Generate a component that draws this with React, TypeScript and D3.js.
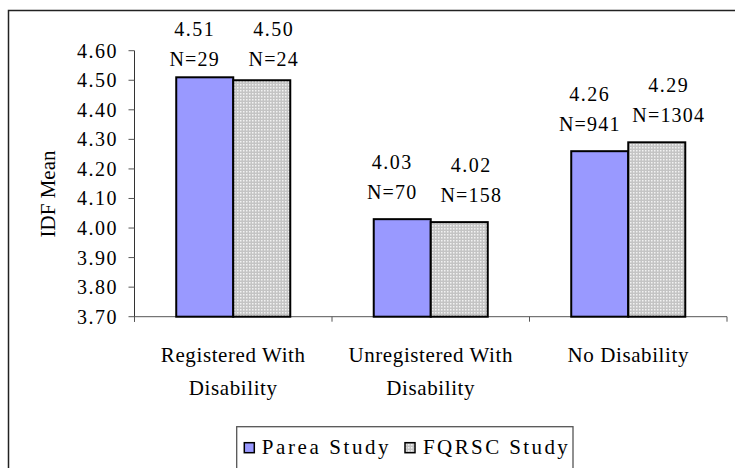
import React from "react";
import * as d3 from "d3";

const categories = ["Registered With Disability", "Unregistered With Disability", "No Disability"];
const categoryLines = [["Registered With", "Disability"], ["Unregistered With", "Disability"], ["No Disability"]];
const seriesNames = ["Parea Study", "FQRSC Study"];
const pareaValues = [4.51, 4.03, 4.26];
const fqrscValues = [4.5, 4.02, 4.29];
const pareaN = [29, 70, 941];
const fqrscN = [24, 158, 1304];
const yTicks = [3.7, 3.8, 3.9, 4.0, 4.1, 4.2, 4.3, 4.4, 4.5, 4.6];

const FONT = "Liberation Serif";

export default function App() {
  const y = d3.scaleLinear().domain([3.7, 4.6]).range([316.7, 50.7]);
  const x = d3.scaleBand<string>().domain(categories).range([134.5, 727]).paddingInner(0).paddingOuter(0);
  const xs = d3.scaleBand<string>().domain(seriesNames).range([0, x.bandwidth()]).paddingInner(0).paddingOuter(0.732);
  const series = [
    { name: seriesNames[0], values: pareaValues, ns: pareaN, fill: "#9999ff", dx: -10 },
    { name: seriesNames[1], values: fqrscValues, ns: fqrscN, fill: "url(#dots)", dx: 12 },
  ];
  const y0 = y(3.7);
  return (
    <svg width={735} height={468} style={{ position: "absolute", left: 0, top: 0, fontFamily: FONT }}>
      <defs>
        <pattern id="dots" width={3} height={3} patternUnits="userSpaceOnUse">
          <rect width={3} height={3} fill="#c4c4c4" />
          <rect width={1.5} height={1.5} fill="#f2f2f2" />
        </pattern>
      </defs>
      <rect x={0} y={0} width={735} height={468} fill="#fff" />
      <rect x={8.5} y={10.5} width={800} height={600} fill="none" stroke="#222" strokeWidth={1.5} />
      {/* y axis */}
      <line x1={134.5} x2={134.5} y1={y(4.6)} y2={y0 + 5} stroke="#333" strokeWidth={1} />
      {yTicks.map((t) => (
        <g key={t}>
          <line x1={128.5} x2={134.5} y1={y(t)} y2={y(t)} stroke="#555" strokeWidth={1} />
          <text x={118} y={y(t)} dy="0.35em" textAnchor="end" style={{ fontSize: 20, letterSpacing: 1.5, fontFamily: FONT }}>
            {d3.format(".2f")(t)}
          </text>
        </g>
      ))}
      <text transform={`translate(48,194) rotate(-90)`} textAnchor="middle" dy="0.35em" style={{ fontSize: 21, fontFamily: FONT }}>
        IDF Mean
      </text>
      {/* x axis */}
      <line x1={134.5} x2={727} y1={y0} y2={y0} stroke="#555" strokeWidth={1} />
      {categories.map((c) => (
        <line key={c + "t"} x1={x(c)!} x2={x(c)!} y1={y0} y2={y0 + 5} stroke="#555" />
      ))}
      <line x1={727} x2={727} y1={y0} y2={y0 + 5} stroke="#555" />
      {categories.map((c, i) => (
        <text key={c} textAnchor="middle" style={{ fontSize: 21, letterSpacing: 0.6, fontFamily: FONT }}>
          {categoryLines[i].map((l, j) => (
            <tspan key={j} x={x(c)! + x.bandwidth() / 2} y={362 + j * 33}>
              {l}
            </tspan>
          ))}
        </text>
      ))}
      {/* bars */}
      {series.map((s) =>
        categories.map((c, i) => {
          const bx = x(c)! + xs(s.name)!;
          const top = y(s.values[i]);
          const cx = bx + xs.bandwidth() / 2 + s.dx;
          const vBase = Math.max(top - 50, 36);
          return (
            <g key={s.name + c}>
              <rect x={bx} y={top} width={xs.bandwidth()} height={y0 - top} fill={s.fill} stroke="#000" strokeWidth={2} />
              <text x={cx} y={vBase} textAnchor="middle" style={{ fontSize: 20, letterSpacing: 1.5, fontFamily: FONT }}>
                {s.values[i].toFixed(2)}
              </text>
              <text x={cx} y={vBase + 30} textAnchor="middle" style={{ fontSize: 20, letterSpacing: 1.2, fontFamily: FONT }}>
                {"N=" + s.ns[i]}
              </text>
            </g>
          );
        })
      )}
      {/* legend */}
      <rect x={236.7} y={426.7} width={336.3} height={80} fill="#fff" stroke="#555" strokeWidth={1.3} />
      <rect x={244.3} y={442.7} width={10} height={10} fill="#9999ff" stroke="#000" strokeWidth={1.5} />
      <text x={261.7} y={454} style={{ fontSize: 21, letterSpacing: 2.6, fontFamily: FONT }}>{seriesNames[0]}</text>
      <rect x={405} y={442.7} width={10} height={10} fill="url(#dots)" stroke="#000" strokeWidth={1.5} />
      <text x={423} y={454} style={{ fontSize: 21, letterSpacing: 2.4, fontFamily: FONT }}>{seriesNames[1]}</text>
    </svg>
  );
}
